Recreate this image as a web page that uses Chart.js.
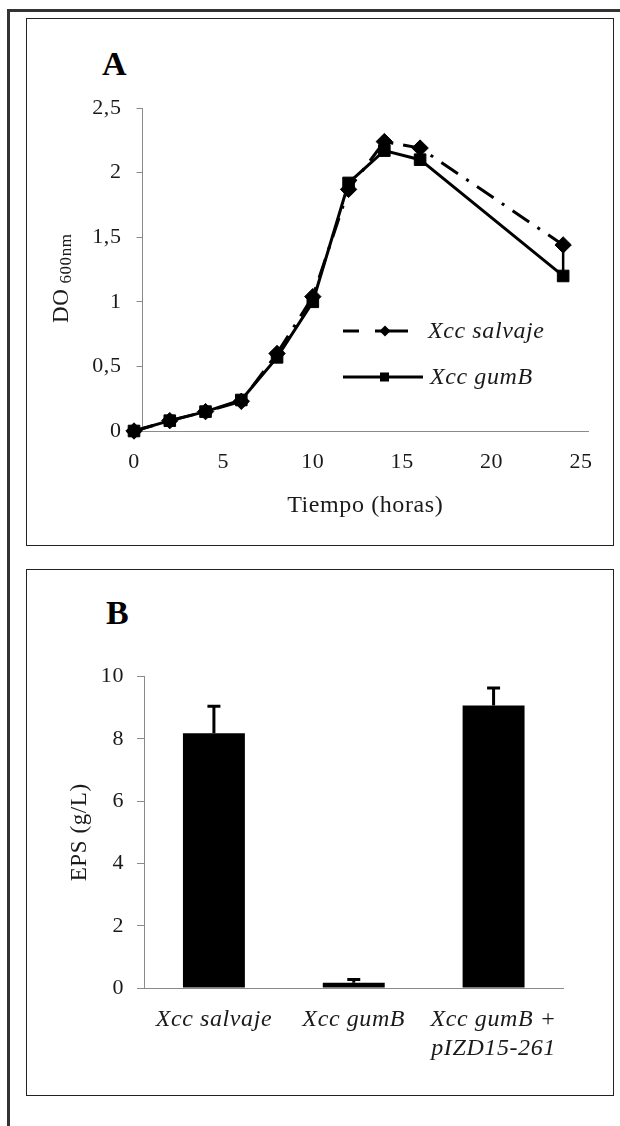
<!DOCTYPE html>
<html><head><meta charset="utf-8">
<script src="https://cdn.jsdelivr.net/npm/chart.js@4.4.1/dist/chart.umd.min.js"></script>
<style>
html,body{margin:0;padding:0;background:#fff;}
#page{position:relative;width:620px;height:1126px;overflow:hidden;background:#fff;}
.frameTop{position:absolute;left:7px;top:9px;width:613px;height:3px;background:#333;}
.frameLeft{position:absolute;left:7px;top:9px;width:3px;height:1117px;background:#333;}
.panel{position:absolute;border:1.5px solid #222;box-sizing:border-box;}
#panelA{left:26px;top:18px;width:588px;height:528px;}
#panelB{left:26px;top:569px;width:588px;height:527px;}
.lbl{position:absolute;font-family:'Liberation Serif','Times New Roman',serif;font-weight:bold;font-size:34px;line-height:34px;color:#000;}
#lblA{left:102px;top:47px;}
#lblB{left:106px;top:596px;}
#wrapA{position:absolute;left:0;top:0;width:620px;height:560px;}
#wrapB{position:absolute;left:0;top:560px;width:620px;height:566px;}
canvas{display:block;}
</style>
</head>
<body>
<div id="page">
  <div class="frameTop"></div>
  <div class="frameLeft"></div>
  <div class="panel" id="panelA"></div>
  <div class="panel" id="panelB"></div>
  <div class="lbl" id="lblA">A</div>
  <div class="lbl" id="lblB">B</div>
  <div id="wrapA"><canvas id="chartA" width="620" height="560"></canvas></div>
  <div id="wrapB"><canvas id="chartB" width="620" height="566"></canvas></div>
</div>
<script>
// ---------- Data: panel A (growth curve) ----------
const hours = [0, 2, 4, 6, 8, 10, 12, 14, 16, 24];
const salvaje = [0, 0.08, 0.15, 0.23, 0.60, 1.04, 1.87, 2.24, 2.19, 1.44];
const gumB = [0, 0.08, 0.15, 0.24, 0.57, 1.00, 1.92, 2.17, 2.10, 1.20];
const gumBErr = [0, 0, 0, 0, 0, 0, 0, 0, 0, 0.22];
const seriesNamesA = ['Xcc salvaje', 'Xcc gumB'];
const xTicksA = [0, 5, 10, 15, 20, 25];
const yTicksA = [0, 0.5, 1, 1.5, 2, 2.5];
const yTickLabelsA = ['0', '0,5', '1', '1,5', '2', '2,5'];
const xTitleA = 'Tiempo (horas)';
const yTitleA = 'DO';
const yTitleSubA = '600nm';

// ---------- Data: panel B (EPS production) ----------
const strains = [['Xcc salvaje'], ['Xcc gumB'], ['Xcc gumB +', 'pIZD15-261']];
const eps = [8.18, 0.17, 9.07];
const epsErr = [0.87, 0.10, 0.56];
const yTicksB = [0, 2, 4, 6, 8, 10];
const yTickLabelsB = ['0', '2', '4', '6', '8', '10'];
const yTitleB = 'EPS (g/L)';

const F = "'Liberation Serif','Times New Roman',serif";
const TXT = '#1a1a1a';
const AX = '#8a8a8a';
const SPACING = '0.6px';

// ---------- Plugins ----------
const spacingPlugin = {
  id: 'spacing',
  beforeUpdate(chart) { chart.ctx.letterSpacing = SPACING; },
  beforeDraw(chart) { chart.ctx.letterSpacing = SPACING; }
};

const errorBarsA = {
  id: 'errorBarsA',
  afterDatasetsDraw(chart) {
    const ctx = chart.ctx, y = chart.scales.y, x = chart.scales.x;
    ctx.save();
    ctx.strokeStyle = '#000';
    ctx.lineWidth = 2.5;
    gumBErr.forEach((e, i) => {
      if (!e) return;
      const px = x.getPixelForValue(hours[i]);
      ctx.beginPath();
      ctx.moveTo(px, y.getPixelForValue(gumB[i]));
      ctx.lineTo(px, y.getPixelForValue(gumB[i] + e));
      ctx.stroke();
    });
    ctx.restore();
  }
};

const legendA = {
  id: 'legendA',
  afterDraw(chart) {
    const ctx = chart.ctx;
    ctx.save();
    ctx.strokeStyle = '#000';
    ctx.fillStyle = '#000';
    ctx.lineWidth = 3.2;
    // row 1 : dashed + diamond
    const r1 = 331;
    ctx.beginPath();
    ctx.moveTo(343, r1); ctx.lineTo(359, r1);
    ctx.moveTo(375, r1); ctx.lineTo(408, r1);
    ctx.stroke();
    ctx.beginPath();
    ctx.moveTo(385, r1 - 5.5); ctx.lineTo(390.5, r1); ctx.lineTo(385, r1 + 5.5); ctx.lineTo(379.5, r1);
    ctx.closePath(); ctx.fill();
    // row 2 : solid + square
    const r2 = 377;
    ctx.beginPath();
    ctx.moveTo(343, r2); ctx.lineTo(423, r2);
    ctx.stroke();
    ctx.fillRect(380, r2 - 4.5, 9, 9);
    // labels
    ctx.font = 'italic 24px ' + F;
    ctx.fillStyle = TXT;
    ctx.textBaseline = 'middle';
    ctx.textAlign = 'left';
    ctx.fillText(seriesNamesA[0], 428, r1 + 1);
    ctx.fillText(seriesNamesA[1], 430, r2 + 1);
    ctx.restore();
  }
};

const yTitleAPlugin = {
  id: 'yTitleA',
  afterDraw(chart) {
    const ctx = chart.ctx;
    ctx.save();
    ctx.translate(68, 323);
    ctx.rotate(-Math.PI / 2);
    ctx.fillStyle = TXT;
    ctx.textBaseline = 'alphabetic';
    ctx.textAlign = 'left';
    ctx.font = '23px ' + F;
    ctx.fillText(yTitleA, 0, 0);
    const w = ctx.measureText(yTitleA).width;
    ctx.font = '17px ' + F;
    ctx.fillText(yTitleSubA, w + 5, 3);
    ctx.restore();
  }
};

const errorBarsB = {
  id: 'errorBarsB',
  afterDatasetsDraw(chart) {
    const ctx = chart.ctx, y = chart.scales.y;
    const meta = chart.getDatasetMeta(0);
    ctx.save();
    ctx.strokeStyle = '#000';
    ctx.lineWidth = 3;
    meta.data.forEach((bar, i) => {
      const top = y.getPixelForValue(eps[i] + epsErr[i]);
      ctx.beginPath();
      ctx.moveTo(bar.x, bar.y);
      ctx.lineTo(bar.x, top);
      ctx.moveTo(bar.x - 6.5, top);
      ctx.lineTo(bar.x + 6.5, top);
      ctx.stroke();
    });
    ctx.restore();
  }
};

// ---------- Chart A ----------
new Chart(document.getElementById('chartA'), {
  type: 'scatter',
  data: {
    datasets: [
      {
        label: seriesNamesA[0],
        data: hours.map((h, i) => ({ x: h, y: salvaje[i] })),
        showLine: true,
        borderColor: '#000',
        borderWidth: 3,
        borderDash: [20, 10, 3, 10],
        pointStyle: 'rectRot',
        pointRadius: 8.2,
        pointBackgroundColor: '#000',
        pointBorderColor: '#000',
        pointBorderWidth: 1,
        clip: false
      },
      {
        label: seriesNamesA[1],
        data: hours.map((h, i) => ({ x: h, y: gumB[i] })),
        showLine: true,
        borderColor: '#000',
        borderWidth: 3,
        pointStyle: 'rect',
        pointRadius: 8.2,
        pointBackgroundColor: '#000',
        pointBorderColor: '#000',
        pointBorderWidth: 1,
        clip: false
      }
    ]
  },
  options: {
    responsive: false,
    animation: false,
    events: [],
    layout: { padding: { left: 20, right: 32, top: 108, bottom: 39 } },
    plugins: { legend: { display: false }, tooltip: { enabled: false } },
    scales: {
      x: {
        type: 'linear',
        min: 0.475,
        max: 25.39,
        afterBuildTicks: s => { s.ticks = xTicksA.map(v => ({ value: v })); },
        afterFit: s => { s.height = 90; },
        grid: { display: false, drawTicks: false },
        border: { display: true, color: AX, width: 1 },
        ticks: { autoSkip: false, maxRotation: 0, padding: 18, color: TXT, font: { family: F, size: 22 } },
        title: { display: true, text: xTitleA, color: TXT, font: { family: F, size: 24 }, padding: { top: 0, bottom: 1 } }
      },
      y: {
        min: 0,
        max: 2.5,
        afterBuildTicks: s => { s.ticks = yTicksA.map(v => ({ value: v })); },
        afterFit: s => { s.width = 122.5; },
        grid: { drawOnChartArea: false, drawTicks: true, tickLength: 6, color: AX },
        border: { display: true, color: AX, width: 1 },
        ticks: { padding: 15, color: TXT, font: { family: F, size: 22 },
          callback: v => yTickLabelsA[yTicksA.indexOf(v)] }
      }
    }
  },
  plugins: [spacingPlugin, errorBarsA, legendA, yTitleAPlugin]
});

// ---------- Chart B ----------
new Chart(document.getElementById('chartB'), {
  type: 'bar',
  data: {
    labels: strains,
    datasets: [{
      data: eps,
      backgroundColor: '#000',
      borderColor: '#000',
      borderWidth: 0,
      barPercentage: 0.443,
      categoryPercentage: 1
    }]
  },
  options: {
    responsive: false,
    animation: false,
    events: [],
    layout: { padding: { left: 62.6, right: 56.5, top: 116.6, bottom: 38 } },
    plugins: { legend: { display: false }, tooltip: { enabled: false } },
    scales: {
      x: {
        afterFit: s => { s.height = 100; },
        grid: { display: false, drawTicks: false },
        border: { display: true, color: AX, width: 1 },
        ticks: { autoSkip: false, maxRotation: 0, padding: 17.6, color: TXT, font: { family: F, size: 24, style: 'italic' } }
      },
      y: {
        min: 0,
        max: 10,
        afterBuildTicks: s => { s.ticks = yTicksB.map(v => ({ value: v })); },
        afterFit: s => { s.width = 144 - 62.6; },
        grid: { drawOnChartArea: false, drawTicks: true, tickLength: 7, color: AX },
        border: { display: true, color: AX, width: 1 },
        ticks: { padding: 13, color: TXT, font: { family: F, size: 22 },
          callback: v => yTickLabelsB[yTicksB.indexOf(v)] },
        title: { display: true, text: yTitleB, color: TXT, font: { family: F, size: 23 }, padding: { top: 4, bottom: 0 } }
      }
    }
  },
  plugins: [spacingPlugin, errorBarsB]
});
</script>
</body></html>
